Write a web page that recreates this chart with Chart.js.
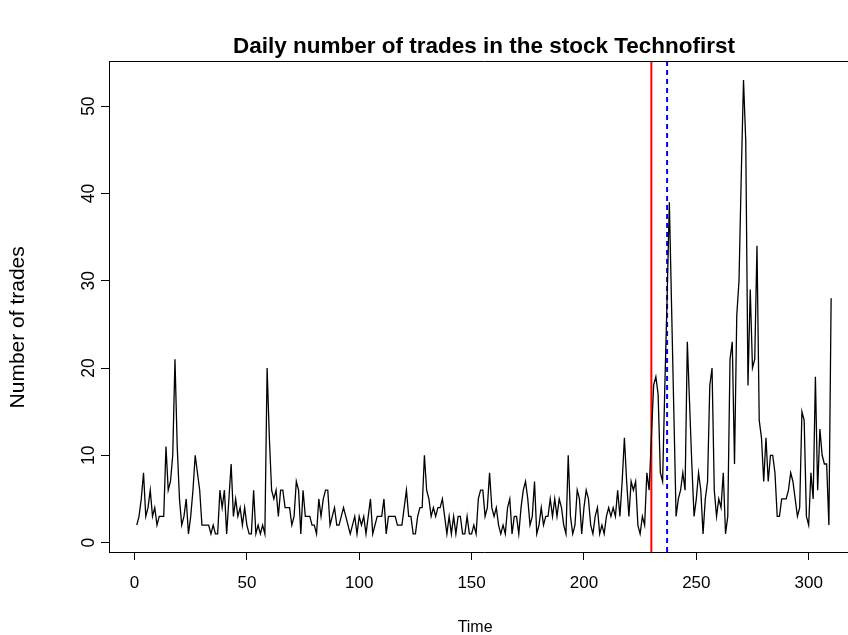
<!DOCTYPE html>
<html>
<head>
<meta charset="utf-8">
<script src="https://cdn.jsdelivr.net/npm/chart.js@4.4.1/dist/chart.umd.min.js"></script>
<style>
  html, body { margin: 0; padding: 0; background: #fff; overflow: hidden; }
  /* the R plot box runs past the right edge of the picture, so crop it */
  #wrap { width: 848px; height: 635px; overflow: hidden; }
</style>
</head>
<body>
<div id="wrap"><canvas id="tradesChart" width="870" height="635"></canvas></div>
<script>
// daily number of trades, day 1 .. 310
const trades = [
  2, 3, 5, 8, 3, 4, 6, 3, 4, 2, 3, 3, 3, 11, 6, 7, 10, 21, 11, 5,
  2, 3, 5, 1, 3, 6, 10, 8, 6, 2, 2, 2, 2, 1, 2, 1, 1, 6, 4, 6,
  1, 5, 9, 3, 5, 3, 4, 2, 4, 2, 1, 1, 6, 1, 2, 1, 2, 1, 20, 12,
  6, 5, 6, 3, 6, 6, 4, 4, 4, 2, 3, 7, 6, 1, 6, 3, 3, 3, 2, 2,
  1, 5, 3, 5, 6, 6, 2, 3, 4, 2, 2, 3, 4, 3, 2, 1, 2, 3, 1, 3,
  2, 3, 1, 3, 5, 1, 2, 3, 3, 3, 5, 1, 3, 3, 3, 3, 2, 2, 2, 4,
  6, 3, 3, 1, 1, 3, 4, 4, 10, 6, 5, 3, 4, 3, 4, 4, 5, 3, 1, 3,
  1, 3, 1, 3, 3, 1, 1, 3, 1, 1, 2, 1, 5, 6, 6, 3, 4, 8, 4, 3,
  4, 2, 1, 2, 1, 4, 5, 1, 3, 3, 1, 4, 6, 7, 5, 2, 3, 7, 1, 2,
  4, 2, 3, 3, 5, 3, 5, 3, 5, 4, 2, 1, 10, 3, 1, 2, 6, 5, 1, 4,
  6, 5, 2, 1, 3, 4, 1, 2, 1, 3, 4, 3, 4, 3, 6, 3, 7, 12, 7, 3,
  7, 6, 7, 2, 1, 3, 2, 8, 6, 12, 18, 19, 17, 8, 7, 18, 28, 39, 27, 15,
  3, 5, 6, 8, 6, 23, 16, 9, 3, 5, 8, 6, 1, 5, 7, 18, 20, 6, 3, 5,
  4, 8, 1, 3, 21, 23, 9, 26, 30, 42, 53, 46, 18, 29, 20, 21, 34, 14, 12, 7,
  12, 7, 10, 10, 8, 3, 3, 5, 5, 5, 6, 8, 7, 5, 3, 4, 15, 14, 3, 2,
  8, 5, 19, 6, 13, 10, 9, 9, 2, 28
];
const days = trades.map((v, i) => i + 1);

const xTicks = [0, 50, 100, 150, 200, 250, 300];
const yTicks = [0, 10, 20, 30, 40, 50];
const breakDay = 230;    // solid red line
const detectDay = 237;   // dashed blue line

// R pads the data range by 4% on each side
const xMin = -11.36, xMax = 322.4;
const yMin = -1.08, yMax = 55.08;

const font = "'Liberation Sans', Arial, Helvetica, sans-serif";
const nbsp = n => "\u00A0".repeat(n);   // nudges the axis titles off centre like in the original

const vline = (x, color, dash) => ({
  data: [{ x: x, y: yMin }, { x: x, y: yMax }],
  borderColor: color,
  borderWidth: 2,
  borderDash: dash,
  pointRadius: 0,
  fill: false
});

new Chart(document.getElementById("tradesChart"), {
  type: "line",
  data: {
    datasets: [
      {
        data: days.map((d, i) => ({ x: d, y: trades[i] })),
        borderColor: "#000",
        borderWidth: 1.3,
        pointRadius: 0,
        tension: 0,
        fill: false
      },
      vline(breakDay, "#ff0000", []),
      vline(detectDay, "#0000ff", [5, 4])
    ]
  },
  options: {
    responsive: false,
    animation: false,
    devicePixelRatio: 1,
    layout: { padding: { left: 0, right: 11, top: 0, bottom: 0 } },
    plugins: {
      legend: { display: false },
      tooltip: { enabled: false },
      title: {
        display: true,
        fullSize: false,
        text: "Daily number of trades in the stock Technofirst",
        color: "#000",
        font: { family: font, size: 22.5, weight: "bold" },
        padding: { top: 33, bottom: 1.8 }
      }
    },
    scales: {
      x: {
        type: "linear",
        position: "bottom",
        min: xMin,
        max: xMax,
        afterBuildTicks: s => { s.ticks = xTicks.map(v => ({ value: v })); },
        afterFit: s => { s.height = 83; },
        ticks: {
          color: "#000",
          font: { family: font, size: 17 },
          padding: 13,
          maxRotation: 0,
          includeBounds: false
        },
        grid: { drawOnChartArea: false, tickLength: 8, tickColor: "#000" },
        border: { display: true, color: "#000", width: 1 },
        title: {
          display: true,
          text: "Time" + nbsp(4),
          color: "#000",
          font: { family: font, size: 16 },
          padding: { top: 0, bottom: -2 }
        }
      },
      x2: {
        type: "linear",
        position: "top",
        min: xMin,
        max: xMax,
        afterFit: s => { s.height = 0; },
        ticks: { display: false },
        grid: { drawOnChartArea: false, drawTicks: false },
        border: { display: true, color: "#000", width: 1 }
      },
      y: {
        type: "linear",
        min: yMin,
        max: yMax,
        afterBuildTicks: s => { s.ticks = yTicks.map(v => ({ value: v })); },
        afterFit: s => { s.width = 109; },
        ticks: {
          color: "#000",
          font: { family: font, size: 17.5 },
          padding: 2,
          minRotation: 90,
          maxRotation: 90,
          crossAlign: "center",
          includeBounds: false
        },
        grid: { drawOnChartArea: false, tickLength: 8, tickColor: "#000" },
        border: { display: true, color: "#000", width: 1 },
        title: {
          display: true,
          text: "Number of trades" + nbsp(7),
          color: "#000",
          font: { family: font, size: 21 },
          padding: { top: 6, bottom: 0 }
        }
      }
    }
  }
});
</script>
</body>
</html>
